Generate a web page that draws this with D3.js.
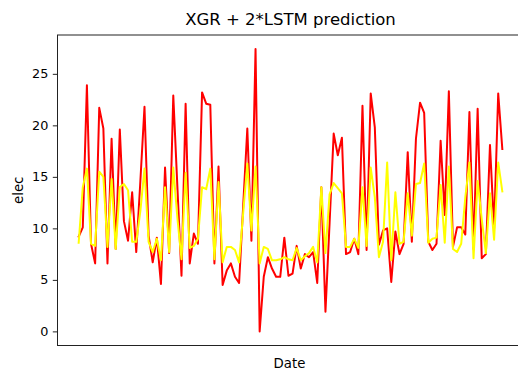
<!DOCTYPE html>
<html>
<head>
<meta charset="utf-8">
<script src="https://cdn.jsdelivr.net/npm/d3@7"></script>
<style>
  html, body { margin: 0; padding: 0; background: #fff; }
  svg { display: block; }
  text { font-family: "DejaVu Sans", sans-serif; fill: #000; }
</style>
</head>
<body>
<svg id="chart" width="518" height="372"></svg>
<script>
const titleText = "XGR + 2*LSTM prediction";
const xLabel = "Date";
const yLabel = "elec";
const yTicks = [0, 5, 10, 15, 20, 25];

const actual = [
  9.2, 10.1, 23.9, 8.5, 6.6, 21.7, 19.7, 6.6, 18.7, 8.0,
  19.6, 10.7, 8.8, 13.5, 7.7, 14.6, 21.8, 9.3, 6.7, 9.1,
  4.6, 15.9, 7.6, 22.9, 14.0, 5.4, 22.1, 6.6, 9.5, 8.5,
  23.2, 22.1, 22.0, 6.6, 16.0, 4.5, 5.9, 6.6, 5.3, 4.7,
  12.2, 19.7, 8.8, 27.4, 0.0, 5.3, 7.2, 6.1, 5.3, 5.3,
  9.1, 5.4, 5.6, 8.3, 6.1, 7.5, 7.2, 7.7, 4.7, 14.0,
  1.9, 10.5, 19.2, 17.1, 18.8, 7.5, 7.7, 9.0, 7.5, 21.9,
  7.9, 23.1, 19.8, 8.4, 9.8, 10.0, 4.8, 9.7, 7.5, 8.5,
  17.4, 8.7, 18.7, 22.2, 21.2, 8.7, 7.9, 8.5, 18.5, 11.3,
  23.3, 8.2, 10.1, 10.1, 9.4, 21.3, 8.0, 21.6, 7.1, 7.5,
  18.1, 10.0, 23.1, 17.7
];

const predicted = [
  8.6, 14.0, 15.8, 8.5, 8.3, 15.5, 15.0, 8.2, 14.8, 8.0,
  14.0, 14.3, 13.7, 8.7, 8.7, 11.7, 15.8, 8.7, 7.7, 9.0,
  6.9, 14.0, 7.7, 15.9, 11.0, 7.0, 15.4, 8.1, 8.3, 9.0,
  14.0, 13.8, 15.8, 7.0, 14.5, 6.7, 8.2, 8.2, 7.9, 6.7,
  11.5, 16.3, 9.8, 16.0, 6.6, 8.2, 8.0, 6.9, 6.9, 7.0,
  7.2, 7.0, 6.9, 8.1, 6.9, 7.3, 7.6, 8.2, 6.7, 14.0,
  7.6, 13.3, 14.4, 13.9, 13.4, 8.2, 8.2, 9.0, 8.1, 14.0,
  8.3, 15.9, 13.0, 7.2, 8.7, 16.4, 6.9, 13.5, 8.5, 8.7,
  13.4, 9.3, 14.3, 14.4, 16.3, 8.6, 9.0, 9.1, 14.2, 8.6,
  16.0, 8.0, 7.7, 8.5, 13.0, 16.4, 7.1, 14.6, 10.9, 7.6,
  13.4, 8.9, 16.4, 13.6
];

const svg = d3.select("#chart");
const plot = { left: 57.5, right: 523.5, top: 35, bottom: 345.5 };

const n = actual.length;
const xPad = 0.05 * (n - 1);
const x = d3.scaleLinear()
  .domain([-xPad, n - 1 + xPad])
  .range([plot.left, plot.right]);

const all = actual.concat(predicted);
const [ymin, ymax] = d3.extent(all);
const yPad = 0.05 * (ymax - ymin);
const y = d3.scaleLinear()
  .domain([ymin - yPad, ymax + yPad])
  .range([plot.bottom, plot.top]);

const line = d3.line()
  .x((d, i) => x(i))
  .y(d => y(d));

svg.append("defs").append("clipPath").attr("id", "clip")
  .append("rect")
  .attr("x", plot.left).attr("y", plot.top)
  .attr("width", plot.right - plot.left)
  .attr("height", plot.bottom - plot.top);

const g = svg.append("g").attr("clip-path", "url(#clip)");

g.append("path")
  .datum(actual)
  .attr("d", line)
  .attr("fill", "none")
  .attr("stroke", "#ff0000")
  .attr("stroke-width", 2)
  .attr("stroke-linejoin", "round")
  .attr("stroke-linecap", "square");

g.append("path")
  .datum(predicted)
  .attr("d", line)
  .attr("fill", "none")
  .attr("stroke", "#ffff00")
  .attr("stroke-width", 2)
  .attr("stroke-linejoin", "round")
  .attr("stroke-linecap", "square");

// frame
svg.append("rect")
  .attr("x", plot.left).attr("y", plot.top)
  .attr("width", plot.right - plot.left)
  .attr("height", plot.bottom - plot.top)
  .attr("fill", "none")
  .attr("stroke", "#222")
  .attr("stroke-width", 1);

// y axis
const yAxis = d3.axisLeft(y)
  .tickValues(yTicks)
  .tickFormat(d3.format("d"))
  .tickSize(4.7)
  .tickPadding(4.5);

const ya = svg.append("g")
  .attr("transform", `translate(${plot.left},0)`)
  .call(yAxis);
ya.select(".domain").remove();
ya.selectAll(".tick line").attr("stroke", "#222").attr("stroke-width", 1);
ya.selectAll(".tick text")
  .attr("font-family", "DejaVu Sans")
  .attr("font-size", 12.8)
  .attr("fill", "#000");

// title
svg.append("text")
  .attr("x", (plot.left + plot.right) / 2)
  .attr("y", 25)
  .attr("text-anchor", "middle")
  .attr("font-size", 16.5)
  .text(titleText);

// x label
svg.append("text")
  .attr("x", (plot.left + plot.right) / 2 - 1)
  .attr("y", 368)
  .attr("text-anchor", "middle")
  .attr("font-size", 13.3)
  .text(xLabel);

// y label
svg.append("text")
  .attr("transform", `translate(23, ${(plot.top + plot.bottom) / 2}) rotate(-90)`)
  .attr("text-anchor", "middle")
  .attr("font-size", 13.3)
  .text(yLabel);
</script>
</body>
</html>
